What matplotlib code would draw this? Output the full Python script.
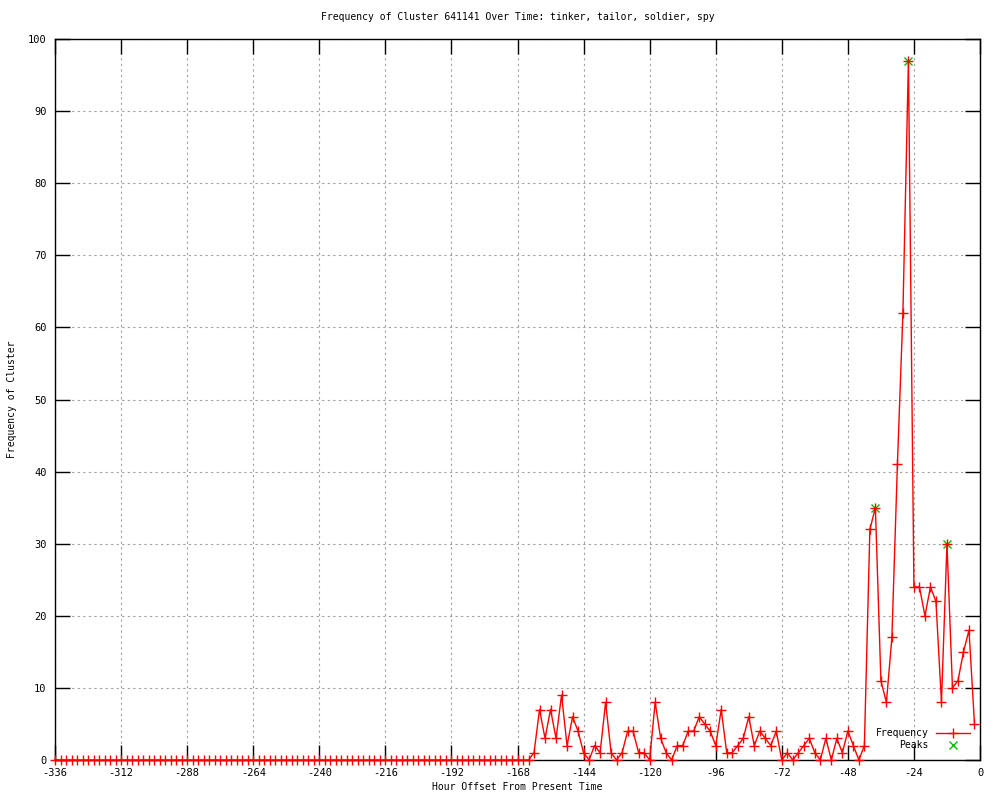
import matplotlib
matplotlib.use("Agg")
import matplotlib.pyplot as plt
import numpy as np

plt.rcParams['font.family'] = ['DejaVu Sans Mono']
plt.rcParams['axes.unicode_minus'] = False

# hour offsets, every 2 hours from -336 to -2
hours = list(range(-336, 0, 2))

# nonzero part of the series starts at -166; everything before is 0
recent = [
    0, 0, 1, 7, 3, 7, 3, 9, 2, 6,            # -166 .. -148
    4, 1, 0, 2, 1, 8, 1, 0, 1, 4,            # -146 .. -128
    4, 1, 1, 0, 8, 3, 1, 0, 2, 2,            # -126 .. -108
    4, 4, 6, 5, 4, 2, 7, 1, 1, 2,            # -106 .. -88
    3, 6, 2, 4, 3, 2, 4, 0, 1, 0,            # -86 .. -68
    1, 2, 3, 1, 0, 3, 0, 3, 1, 4,            # -66 .. -48
    2, 0, 2, 32, 35, 11, 8, 17, 41, 62,      # -46 .. -28
    97, 24, 24, 20, 24, 22, 8, 30, 10, 11,   # -26 .. -8
    15, 18, 5,                               # -6 .. -2
]
freq = [0] * (len(hours) - len(recent)) + recent

peak_hours = [-38, -26, -12]
peak_vals = [35, 97, 30]

fig = plt.figure(figsize=(10, 8), dpi=100)
ax = fig.add_axes([0.055, 0.05, 0.925, 0.90125])

ax.plot(hours, freq, color='red', lw=1, marker='+', ms=7, mew=1,
        clip_on=False, label='Frequency', zorder=4)
ax.plot(peak_hours, peak_vals, ls='none', color='#00c000', marker='x',
        ms=6, mew=1, label='Peaks', zorder=3)

ax.set_xlim(-336, 0)
ax.set_ylim(0, 100)
ax.set_xticks(range(-336, 1, 24))
ax.set_yticks(range(0, 101, 10))
ax.tick_params(direction='in', length=11, width=1, top=True, right=True,
               labelsize=7.5, pad=6, color='black')
ax.grid(True, color='#a0a0a0', ls=(0, (2, 3)), lw=0.8)
for s in ax.spines.values():
    s.set_linewidth(1)

ax.set_title('Frequency of Cluster 641141 Over Time: tinker, tailor, soldier, spy',
             fontsize=7, pad=14)
ax.set_xlabel('Hour Offset From Present Time', fontsize=7, labelpad=3)
ax.set_ylabel('Frequency of Cluster', fontsize=7, labelpad=8)

ax.legend(loc='lower right', frameon=False, markerfirst=False, fontsize=7,
          handlelength=3.5, borderaxespad=0.6, labelspacing=0.2,
          bbox_to_anchor=(1.0, 0.0))

fig.savefig('out.png', dpi=100)
